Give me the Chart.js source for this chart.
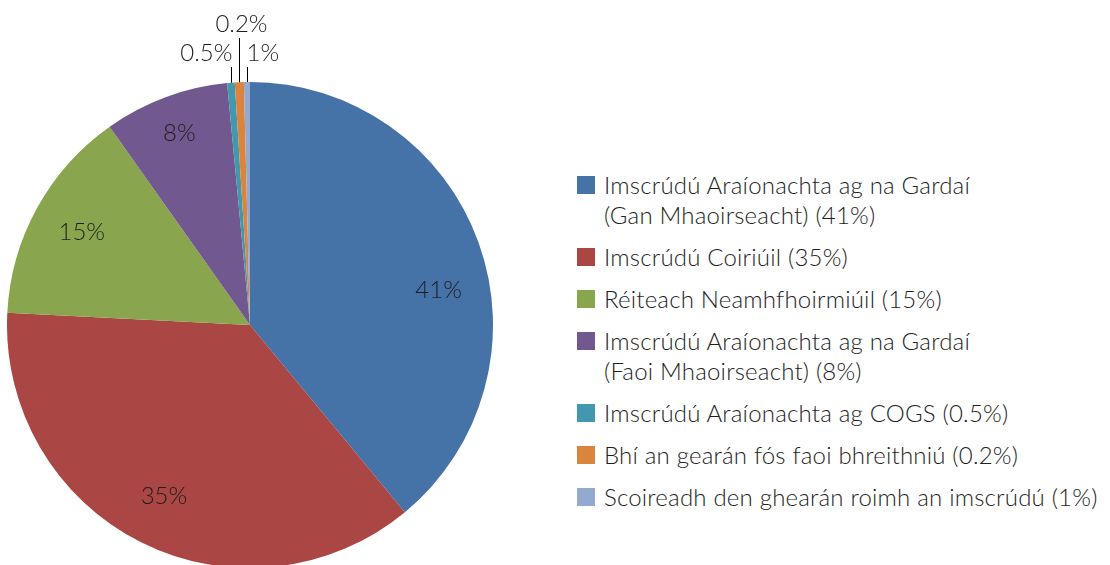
<!DOCTYPE html>
<html>
<head>
<meta charset="utf-8">
<script src="https://cdn.jsdelivr.net/npm/chart.js@4.4.1/dist/chart.umd.min.js"></script>
<style>
  html, body { margin: 0; padding: 0; background: #fff; overflow: hidden; }
  body { width: 1110px; height: 565px; position: relative; font-family: Lato, 'Open Sans', sans-serif; color: #1e1e1e; }
  #pie-wrap { position: absolute; left: 0; top: 0; width: 500px; height: 570px; }
  #legend { position: absolute; left: 577px; top: 170px; margin: 0; padding: 0; list-style: none; }
  #legend li { position: relative; padding-left: 27px; margin-bottom: 12px; font-size: 24px; font-weight: 300; letter-spacing: 0.2px; line-height: 30px; white-space: nowrap; }
  #legend li .box { position: absolute; left: 0; top: 6px; width: 18px; height: 18px; }
</style>
</head>
<body>
<div id="pie-wrap"><canvas id="pie"></canvas></div>
<ul id="legend"></ul>
<script>
// categories (legend text, line breaks as in the original)
var categories = [
  ['Imscrúdú Araíonachta ag na Gardaí', '(Gan Mhaoirseacht) (41%)'],
  ['Imscrúdú Coiriúil (35%)'],
  ['Réiteach Neamhfhoirmiúil (15%)'],
  ['Imscrúdú Araíonachta ag na Gardaí', '(Faoi Mhaoirseacht) (8%)'],
  ['Imscrúdú Araíonachta ag COGS (0.5%)'],
  ['Bhí an gearán fós faoi bhreithniú (0.2%)'],
  ['Scoireadh den ghearán roimh an imscrúdú (1%)']
];
// slice sizes as drawn (percent of the circle)
var shares = [39.0, 36.8, 14.4, 8.3, 0.5, 0.6, 0.4];
// printed data labels
var dataLabels = ['41%', '35%', '15%', '8%', '0.5%', '0.2%', '1%'];
var sliceColors = ['#4572A7', '#AA4643', '#89A54E', '#71588F', '#4198AF', '#DB843D', '#93A9CF'];

var FONT = '300 24px Lato, "Open Sans", sans-serif';
var TEXT = '#1e1e1e';

// draws the slice labels; small slices get a leader line above the pie
var sliceLabels = {
  id: 'sliceLabels',
  afterDatasetsDraw: function (chart) {
    var ctx = chart.ctx;
    var arcs = chart.getDatasetMeta(0).data;
    var nudge = { 0: [8, 30], 3: [-4, -12] };
    var small = 0;
    ctx.save();
    ctx.font = FONT;
    ctx.fillStyle = TEXT;
    ctx.strokeStyle = '#000';
    ctx.lineWidth = 1;
    ctx.textBaseline = 'middle';
    arcs.forEach(function (arc, i) {
      var p = arc.getProps(['x', 'y', 'startAngle', 'endAngle', 'outerRadius'], true);
      var mid = (p.startAngle + p.endAngle) / 2;
      if (shares[i] >= 5) {
        var r = p.outerRadius * 0.79;
        var off = nudge[i] || [0, 0];
        ctx.textAlign = 'center';
        ctx.fillText(dataLabels[i], p.x + Math.cos(mid) * r + off[0], p.y + Math.sin(mid) * r + off[1]);
      } else {
        var ex = Math.round(p.x + Math.cos(mid) * p.outerRadius) + 0.5;
        var ey = p.y + Math.sin(mid) * p.outerRadius;
        var top = (small % 2 === 1) ? 38 : 67;
        ctx.beginPath();
        ctx.moveTo(ex, ey);
        ctx.lineTo(ex, top);
        ctx.stroke();
        var ty = top - 14;
        if (small % 2 === 1) { ctx.textAlign = 'center'; ctx.fillText(dataLabels[i], ex + 2, ty); }
        else if (small === 0) { ctx.textAlign = 'right'; ctx.fillText(dataLabels[i], ex + 1, ty); }
        else { ctx.textAlign = 'left'; ctx.fillText(dataLabels[i], ex - 1, ty); }
        small++;
      }
    });
    ctx.restore();
  }
};

new Chart(document.getElementById('pie').getContext('2d'), {
  type: 'pie',
  data: {
    labels: categories.map(function (c) { return c.join(' '); }),
    datasets: [{
      data: shares,
      backgroundColor: sliceColors,
      borderWidth: 0,
      hoverOffset: 0
    }]
  },
  options: {
    responsive: true, maintainAspectRatio: false, animation: false,
    layout: { padding: { top: 82, left: 7, right: 7, bottom: 2 } },
    plugins: { legend: { display: false }, tooltip: { enabled: false } }
  },
  plugins: [sliceLabels]
});

// legend on the right
var legend = document.getElementById('legend');
categories.forEach(function (lines, i) {
  var li = document.createElement('li');
  var box = document.createElement('span');
  box.className = 'box';
  box.style.background = sliceColors[i];
  li.appendChild(box);
  lines.forEach(function (line, j) {
    if (j) li.appendChild(document.createElement('br'));
    li.appendChild(document.createTextNode(line));
  });
  legend.appendChild(li);
});
</script>
</body>
</html>
